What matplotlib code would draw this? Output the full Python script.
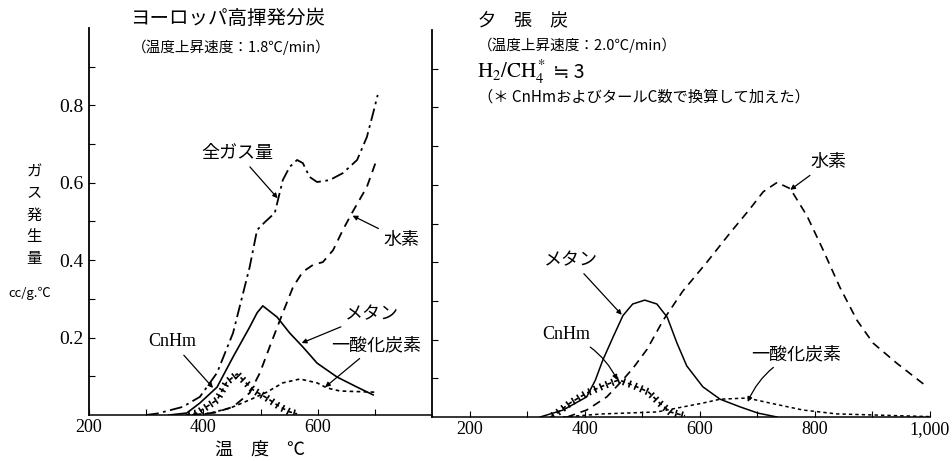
import matplotlib.pyplot as plt
from matplotlib import patheffects

plt.rcParams['font.family'] = ['Noto Sans CJK JP', 'DejaVu Sans']
plt.rcParams['mathtext.fontset'] = 'stix'
SERIF = 'Liberation Serif'

# --- left panel: European high-volatile coal (1.8 C/min) ---
eu_total_t = [300, 320, 364, 394, 424, 452, 481, 494, 508, 525, 539, 551, 564, 574, 586, 599, 621, 644, 669, 686, 697, 705]
eu_total_v = [0.0, 0.004, 0.021, 0.047, 0.109, 0.212, 0.382, 0.478, 0.499, 0.522, 0.607, 0.641, 0.659, 0.651, 0.615, 0.602, 0.607, 0.625, 0.659, 0.718, 0.780, 0.827]

eu_h2_t = [380, 420, 452, 481, 499, 516, 539, 557, 574, 592, 609, 627, 644, 660, 686, 703]
eu_h2_v = [0.0, 0.006, 0.021, 0.057, 0.109, 0.176, 0.264, 0.331, 0.370, 0.388, 0.395, 0.426, 0.478, 0.522, 0.589, 0.659]

eu_ch4_t = [340, 371, 394, 424, 452, 481, 494, 504, 529, 551, 574, 599, 634, 669, 697]
eu_ch4_v = [0.0, 0.005, 0.031, 0.072, 0.150, 0.227, 0.264, 0.282, 0.253, 0.212, 0.176, 0.134, 0.098, 0.072, 0.052]

eu_cnhm_t = [370, 389, 424, 441, 459, 487, 511, 534, 551, 564]
eu_cnhm_v = [0.0, 0.005, 0.039, 0.085, 0.106, 0.065, 0.044, 0.021, 0.008, 0.003]

eu_co_t = [390, 412, 447, 481, 511, 539, 569, 599, 616, 639, 700]
eu_co_v = [0.0, 0.005, 0.018, 0.039, 0.059, 0.083, 0.093, 0.083, 0.070, 0.062, 0.059]

# --- right panel: Yubari coal (2.0 C/min) ---
yu_h2_t = [369, 403, 438, 461, 483, 508, 536, 570, 612, 652, 687, 710, 734, 757, 786, 814, 843, 873, 901, 943, 995]
yu_h2_v = [0.0, 0.018, 0.052, 0.088, 0.125, 0.175, 0.250, 0.325, 0.400, 0.475, 0.538, 0.582, 0.606, 0.590, 0.520, 0.432, 0.336, 0.250, 0.191, 0.138, 0.078]

yu_ch4_t = [322, 362, 403, 418, 431, 449, 466, 483, 504, 525, 543, 560, 577, 605, 635, 670, 701, 734]
yu_ch4_v = [0.0, 0.018, 0.052, 0.095, 0.147, 0.207, 0.262, 0.292, 0.302, 0.292, 0.258, 0.191, 0.132, 0.078, 0.046, 0.026, 0.010, 0.0]

yu_cnhm_t = [340, 351, 374, 403, 431, 459, 487, 510, 530, 548, 574]
yu_cnhm_v = [0.0, 0.010, 0.036, 0.062, 0.080, 0.096, 0.080, 0.065, 0.036, 0.013, 0.003]

yu_co_t = [362, 431, 525, 560, 605, 635, 682, 722, 779, 838, 953, 1000]
yu_co_v = [0.0, 0.008, 0.013, 0.023, 0.036, 0.046, 0.049, 0.036, 0.018, 0.008, 0.003, 0.001]

left_xticks = [200, 300, 400, 500, 600, 700]
left_xlabels = ['200', '', '400', '', '600', '']
right_xticks = [200, 300, 400, 500, 600, 700, 800, 900, 1000]
right_xlabels = ['200', '', '400', '', '600', '', '800', '', '1,000']
yticks = [0.1, 0.2, 0.3, 0.4, 0.5, 0.6, 0.7, 0.8, 0.9]
left_ylabels = ['', '0.2', '', '0.4', '', '0.6', '', '0.8', '']

W, H = 953, 461
fig = plt.figure(figsize=(W / 100, H / 100), dpi=100)
axL = fig.add_axes([89 / W, 46 / H, 343 / W, 387 / H])
axR = fig.add_axes([432 / W, 44 / H, 498 / W, 387 / H])

axL.set_xlim(200, 800)
axR.set_xlim(134, 1000)
for ax in (axL, axR):
    ax.set_ylim(0, 1.0)
    for s in ('top', 'right'):
        ax.spines[s].set_visible(False)
    ax.spines['left'].set_linewidth(1.3)
    ax.spines['bottom'].set_linewidth(1.1)
    ax.tick_params(direction='in', length=4, width=0.8, colors='black')
    ax.set_yticks(yticks)
    ax.set_facecolor('none')

axL.set_xticks(left_xticks)
axL.set_xticklabels(left_xlabels, fontfamily=SERIF, fontsize=13)
axL.set_yticklabels(left_ylabels, fontfamily=SERIF, fontsize=14)
axR.set_xticks(right_xticks)
axR.set_xticklabels(right_xlabels, fontfamily=SERIF, fontsize=13)
axR.set_yticklabels([])
for ax in (axL, axR):
    ax.tick_params(axis='x', pad=3)
    ax.tick_params(axis='y', pad=4)

total_ls = (0, (7, 2.5, 1.5, 2.5))
h2_ls = (0, (5, 3.5))
co_ls = (0, (2.2, 2))
cross_fx = [patheffects.TickedStroke(spacing=4.4, angle=90, length=0.6, linewidth=1.2),
            patheffects.TickedStroke(spacing=4.4, angle=-90, length=0.6, linewidth=1.2),
            patheffects.Normal()]

axL.plot(eu_total_t, eu_total_v, color='black', lw=1.3, ls=total_ls)
axL.plot(eu_h2_t, eu_h2_v, color='black', lw=1.3, ls=h2_ls)
axL.plot(eu_ch4_t, eu_ch4_v, color='black', lw=1.2)
axL.plot(eu_co_t, eu_co_v, color='black', lw=1.2, ls=co_ls)
axL.plot(eu_cnhm_t, eu_cnhm_v, color='black', lw=1.2, ls=(0, (2.4, 2.0)), path_effects=cross_fx)

axR.plot(yu_h2_t, yu_h2_v, color='black', lw=1.2, ls=h2_ls)
axR.plot(yu_ch4_t, yu_ch4_v, color='black', lw=1.1)
axR.plot(yu_co_t, yu_co_v, color='black', lw=1.1, ls=co_ls)
axR.plot(yu_cnhm_t, yu_cnhm_v, color='black', lw=1.2, ls=(0, (2.4, 2.0)), path_effects=cross_fx)

arrow = dict(arrowstyle='-|>', color='black', lw=0.9, mutation_scale=7, shrinkA=2, shrinkB=0)

def label(ax, text, xy, xytext, rad=0.0, serif=False):
    a = dict(arrow, connectionstyle=f'arc3,rad={rad}')
    kw = dict(fontfamily=SERIF) if serif else {}
    ax.annotate(text, xy=xy, xytext=xytext, ha='center', va='center',
                fontsize=13, arrowprops=a, annotation_clip=False, **kw)

label(axL, '全ガス量', (530, 0.56), (460, 0.677))
label(axL, '水素', (661, 0.515), (747, 0.452))
label(axL, 'メタン', (572, 0.186), (695, 0.261))
label(axL, '一酸化炭素', (613, 0.072), (702, 0.181))
label(axL, 'CnHm', (417, 0.070), (345, 0.189), serif=True)

label(axR, '水素', (757, 0.587), (823, 0.659))
label(axR, 'メタン', (464, 0.264), (376, 0.406))
label(axR, 'CnHm', (456, 0.096), (367, 0.214), rad=-0.2, serif=True)
label(axR, '一酸化炭素', (683, 0.039), (767, 0.163), rad=0.2)

def ftext(px, py, s, **kw):
    fig.text(px / W, 1 - py / H, s, **kw)

ftext(130, 18, 'ヨーロッパ高揮発分炭', fontsize=14, ha='left', va='center')
ftext(132, 47, '（温度上昇速度：1.8℃/min）', fontsize=10.5, ha='left', va='center')
ftext(478, 20, '夕　張　炭', fontsize=13, ha='left', va='center')
ftext(478, 45, '（温度上昇速度：2.0℃/min）', fontsize=10.5, ha='left', va='center')
ftext(477, 72, r'$\mathrm{H_2/CH_4^*}$', fontsize=15, ha='left', va='center')
ftext(553, 72, '≒ 3', fontsize=14, ha='left', va='center')
ftext(478, 97, '（＊ CnHmおよびタールC数で換算して加えた）', fontsize=11, ha='left', va='center')

ftext(34, 215, 'ガ\nス\n発\n生\n量', fontsize=11, ha='center', va='center', linespacing=1.35)
ftext(30, 293, 'cc/g.℃', fontsize=9.5, ha='center', va='center')
ftext(260, 450, '温　度　℃', fontsize=13, ha='center', va='center')

fig.savefig('out.png', dpi=100, facecolor='white')
